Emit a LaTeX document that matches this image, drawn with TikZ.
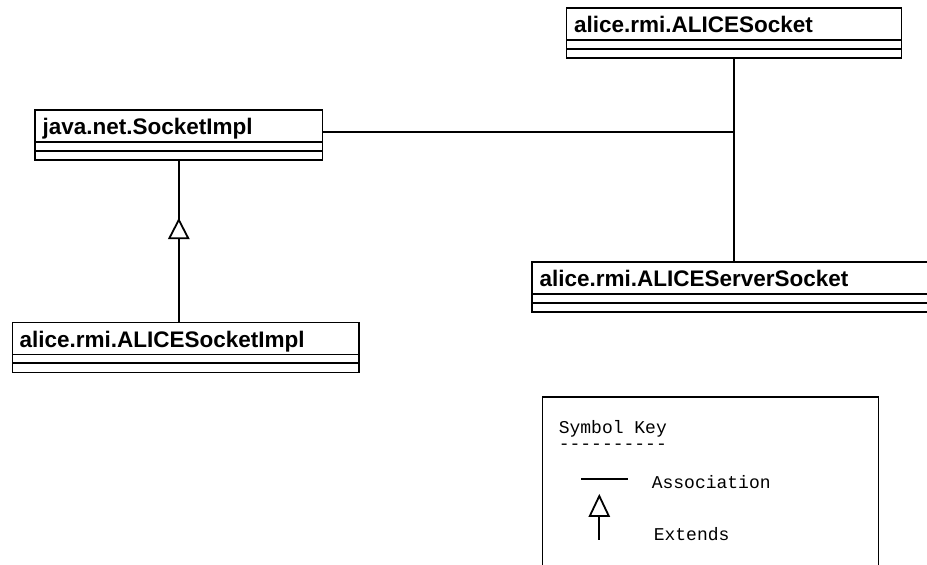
\documentclass[tikz,border=0pt]{standalone}
\usepackage{fontspec}
\newfontfamily\classfont{Liberation Sans}
\newfontfamily\keyfont{Liberation Mono}[Ligatures=TeXOff]
\usetikzlibrary{calc}

\tikzset{
  % class box: title compartment plus two empty compartments
  classbox/.style={draw, rectangle, anchor=north west, inner sep=0pt,
    minimum width=#1, minimum height=50bp,
    path picture={
      \draw[line width=1.6bp]
        ([yshift=-32bp]path picture bounding box.north west) --
        ([yshift=-32bp]path picture bounding box.north east)
        ([yshift=-40.7bp]path picture bounding box.north west) --
        ([yshift=-40.7bp]path picture bounding box.north east);
    }},
  classname/.style={font=\classfont\bfseries\fontsize{22.5bp}{27bp}\selectfont,
    anchor=base west, inner sep=0pt},
  keytext/.style={font=\keyfont\fontsize{18bp}{22bp}\selectfont,
    anchor=base west, inner sep=0pt},
  assoc/.style={line width=1.6bp},
  extline/.style={line width=2.6bp},
  opentri/.style={draw, fill=white, line width=1.8bp, line join=miter},
}

\begin{document}
\begin{tikzpicture}[x=1bp, y=-1bp, line width=1.6bp]
\useasboundingbox (0,0) rectangle (927,565);
\clip (0,0) rectangle (927,565);

% classes
\node[classbox=287.4bp] (sockimpl) at (34.3,109.3) {};
\node[classname] (sockimpl-name) at ([shift={(7.5bp,-25.5bp)}]sockimpl.north west) {java.net.SocketImpl};

\node[classbox=335bp] (alicesock) at (565.7,7.3) {};
\node[classname] (alicesock-name) at ([shift={(7.5bp,-25.5bp)}]alicesock.north west) {alice.rmi.ALICESocket};

\node[classbox=406bp] (servsock) at (531.3,261.3) {};
\node[classname] (servsock-name) at ([shift={(7.5bp,-25.5bp)}]servsock.north west) {alice.rmi.ALICEServerSocket};

\node[classbox=346.6bp] (aliceimpl) at (11.7,321.7) {};
\node[classname] (aliceimpl-name) at ([shift={(7bp,-25.5bp)}]aliceimpl.north west) {alice.rmi.ALICESocketImpl};

% associations
\coordinate (rowy) at (0,132);
\coordinate (junction) at (alicesock.south |- rowy);
\draw[assoc] (alicesock.south) -- (alicesock.south |- servsock.north);
\draw[assoc] (sockimpl.east |- rowy) -- (junction);

% generalisation
\path (sockimpl.south) ++(0,59) coordinate (etip) ++(0,18.4) coordinate (ebase);
\draw[assoc] (sockimpl.south) -- (etip);
\draw[extline] (ebase) -- (ebase |- aliceimpl.north);
\draw[opentri] (etip) -- ++(-9.5,18.4) -- ++(19,0) -- cycle;

% symbol key
\node[draw, rectangle, anchor=north west, inner sep=0pt,
      minimum width=336bp, minimum height=200bp] (keybox) at (541.7,396) {};
\node[keytext] (key-title) at (558,433) {Symbol Key};
\node[keytext] (key-rule) at (558,449.5) {----------};

\coordinate (assoc-a) at (581,479);
\coordinate (assoc-b) at (628,479);
\draw[assoc] (assoc-a) -- (assoc-b);
\node[keytext] (key-assoc) at (651,488) {Association};

\coordinate (ktip) at (599.3,496);
\coordinate (kbase) at (599.3,516);
\coordinate (kend) at (599.3,540);
\draw[line width=2bp] (kbase) -- (kend);
\draw[opentri] (ktip) -- ++(-9.5,20) -- ++(19,0) -- cycle;
\node[keytext] (key-ext) at (653,540) {Extends};
\end{tikzpicture}
\end{document}
